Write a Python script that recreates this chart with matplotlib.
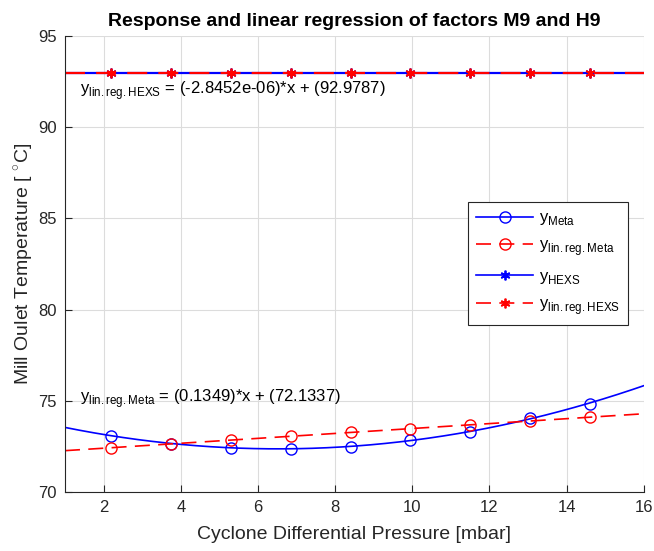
import numpy as np
import matplotlib
matplotlib.use("Agg")
import matplotlib.pyplot as plt

plt.rcParams["font.family"] = ["Liberation Sans", "DejaVu Sans"]
plt.rcParams["mathtext.fontset"] = "custom"
plt.rcParams["mathtext.rm"] = "Liberation Sans"

# ---------------------------------
# Data
# ---------------------------------

x_pts = [2.2, 3.75, 5.3, 6.85, 8.4, 9.95, 11.5, 13.05, 14.6]
y_meta = [73.09, 72.66, 72.43, 72.38, 72.48, 72.83, 73.29, 74.08, 74.85]
y_hexs = [92.98, 92.98, 92.98, 92.98, 92.98, 92.98, 92.98, 92.98, 92.98]

# regression coefficients printed on the chart
meta_slope, meta_icpt = 0.1349, 72.1337
hexs_slope, hexs_icpt = -2.8452e-06, 92.9787

x_range = [1, 16]

# ---------------------------------
# Curves
# ---------------------------------

xs = np.linspace(x_range[0], x_range[1], 200)
x_arr = np.array(x_pts)

meta_curve = np.polyval(np.polyfit(x_pts, y_meta, 2), xs)
hexs_curve = np.polyval(np.polyfit(x_pts, y_hexs, 2), xs)

meta_lin = meta_slope * xs + meta_icpt
hexs_lin = hexs_slope * xs + hexs_icpt
meta_lin_pts = meta_slope * x_arr + meta_icpt
hexs_lin_pts = hexs_slope * x_arr + hexs_icpt

# ---------------------------------
# Plot
# ---------------------------------

fig = plt.figure(figsize=(6.54, 5.51), dpi=100)
ax = fig.add_axes([0.0994, 0.107, 0.885, 0.8276])

lw = 1.2
ms = 8
star = (6, 2, 0)
dash = (9, 5)

ax.plot(xs, meta_curve, color="blue", lw=lw)
ax.plot(x_pts, y_meta, "o", color="blue", mfc="none", ms=ms, mew=1.0)
ax.plot(xs, meta_lin, color="red", lw=lw, dashes=dash)
ax.plot(x_pts, meta_lin_pts, "o", color="red", mfc="none", ms=ms, mew=1.0)

ax.plot(xs, hexs_curve, color="blue", lw=lw + 0.4)
ax.plot(x_pts, y_hexs, ls="none", marker=star, color="blue", ms=7, mew=1.3)
ax.plot(xs, hexs_lin, color="red", lw=lw + 0.4, dashes=dash)
ax.plot(x_pts, hexs_lin_pts, ls="none", marker=star, color="red", ms=7,
        mew=1.3)

# legend proxies
h1, = ax.plot([], [], "-o", color="blue", mfc="none", ms=ms, lw=lw)
h2, = ax.plot([], [], "--o", color="red", mfc="none", ms=ms, lw=lw,
              dashes=dash)
h3, = ax.plot([], [], "-", marker=star, color="blue", ms=7, mew=1.3, lw=lw)
h4, = ax.plot([], [], "--", marker=star, color="red", ms=7, mew=1.3, lw=lw,
              dashes=dash)

leg = ax.legend(
    [h1, h2, h3, h4],
    [r"y$_{\rm Meta}$", r"y$_{\rm lin{.}reg{.}Meta}$",
     r"y$_{\rm HEXS}$", r"y$_{\rm lin{.}reg{.}HEXS}$"],
    loc="upper left",
    bbox_to_anchor=(0.696, 0.636),
    fontsize=12,
    handlelength=3.4,
    handletextpad=0.35,
    fancybox=False,
    framealpha=1,
    edgecolor="#262626",
    borderpad=0.5,
    labelspacing=0.65,
    borderaxespad=0,
)
leg.get_frame().set_linewidth(0.8)

ax.text(1.4, 92.0,
        r"y$_{\rm lin{.}reg{.}HEXS}$ = (-2.8452e-06)*x + (92.9787)",
        fontsize=12, va="center")
ax.text(1.4, 75.1,
        r"y$_{\rm lin{.}reg{.}Meta}$ = (0.1349)*x + (72.1337)",
        fontsize=12, va="center")

ax.set_xlim(x_range)
ax.set_ylim(70, 95)
ax.set_xticks(range(2, 17, 2))
ax.set_yticks(range(70, 96, 5))

ax.grid(True, color="#dcdcdc", lw=0.8)
ax.set_axisbelow(True)
ax.spines["top"].set_visible(False)
ax.spines["right"].set_visible(False)
for s in ["left", "bottom"]:
    ax.spines[s].set_color("#262626")
ax.tick_params(direction="in", length=5, labelsize=12, colors="#262626",
               pad=6)

ax.set_xlabel("Cyclone Differential Pressure [mbar]", fontsize=14,
              color="#262626", labelpad=8)
ax.set_ylabel(r"Mill Oulet Temperature [ $^{\circ}$C]", fontsize=14,
              color="#262626", labelpad=2)
ax.set_title("Response and linear regression of factors M9 and H9",
             fontsize=14, fontweight="bold", pad=7)

fig.savefig("out.png", dpi=100)
plt.close(fig)
